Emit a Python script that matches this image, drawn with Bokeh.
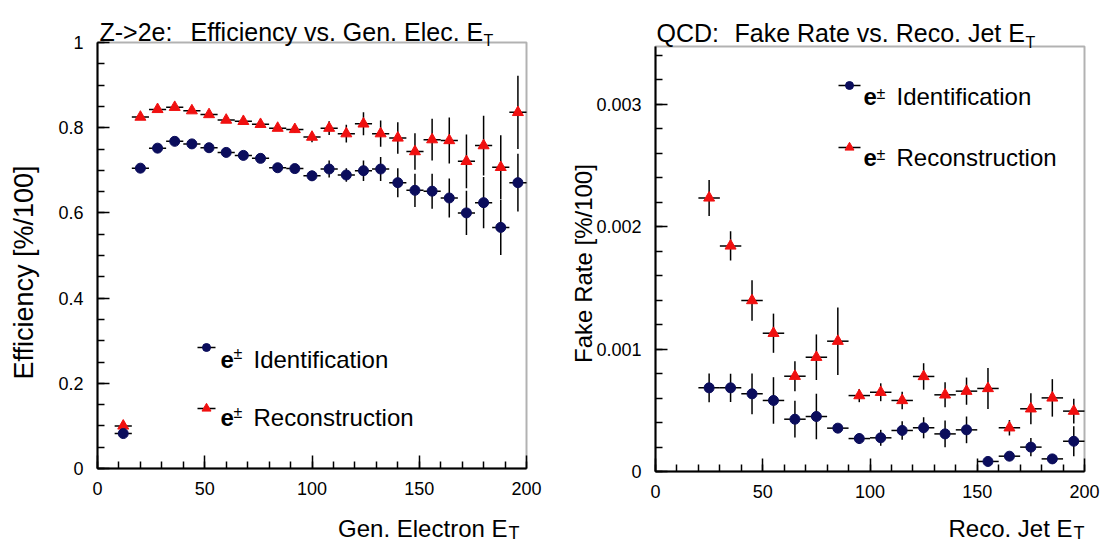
import numpy as np
from bokeh.plotting import figure
from bokeh.models import (Range1d, FixedTicker, CustomJSTickFormatter, Label,
                          LinearAxis, BoxAnnotation)
from bokeh.layouts import row
from bokeh.embed import file_html
from bokeh.resources import INLINE

# ---------------- data: left panel (Z->2e efficiency) ----------------
eff_bin_width = 8
eff_et = [12, 20, 28, 36, 44, 52, 60, 68, 76, 84, 92, 100, 108, 116, 124, 132,
          140, 148, 156, 164, 172, 180, 188, 196]
eff_id = [0.082, 0.705, 0.752, 0.768, 0.762, 0.753, 0.742, 0.735, 0.728, 0.706,
          0.704, 0.687, 0.703, 0.689, 0.699, 0.703, 0.671, 0.653, 0.651, 0.635,
          0.600, 0.624, 0.566, 0.671]
eff_id_err = [0.006, 0.005, 0.005, 0.005, 0.005, 0.006, 0.006, 0.007, 0.008, 0.009,
              0.010, 0.012, 0.020, 0.016, 0.024, 0.028, 0.034, 0.039, 0.041, 0.046,
              0.052, 0.060, 0.065, 0.068]
eff_reco = [0.100, 0.825, 0.843, 0.848, 0.840, 0.831, 0.818, 0.815, 0.808, 0.799,
            0.796, 0.778, 0.799, 0.786, 0.809, 0.786, 0.776, 0.744, 0.772, 0.770,
            0.721, 0.758, 0.707, 0.836]
eff_reco_err = [0.006, 0.004, 0.004, 0.004, 0.004, 0.005, 0.005, 0.005, 0.006, 0.007,
                0.008, 0.012, 0.016, 0.021, 0.027, 0.031, 0.037, 0.043, 0.049, 0.054,
                0.063, 0.070, 0.075, 0.086]

# ---------------- data: right panel (QCD fake rate) ----------------
fake_bin_width = 10
fake_et = [25, 35, 45, 55, 65, 75, 85, 95, 105, 115, 125, 135, 145, 155, 165, 175, 185, 195]
fake_id = [0.000683, 0.000683, 0.000634, 0.000580, 0.000427, 0.000449, 0.000354, 0.000269,
           0.000275, 0.000335, 0.000357, 0.000307, 0.000340, 0.000082, 0.000125, 0.000199,
           0.000103, 0.000247]
fake_id_err = [0.000118, 0.000115, 0.000166, 0.000190, 0.000150, 0.000186, 0.000030, 0.000044,
               0.000065, 0.000075, 0.000086, 0.000110, 0.000109, 0.000020, 0.000025, 0.000075,
               0.000040, 0.000122]
fake_reco = [0.002234, 0.001842, 0.001396, 0.001129, 0.000778, 0.000933, 0.001064, 0.000620,
             0.000647, 0.000580, 0.000776, 0.000626, 0.000656, 0.000678, 0.000357, 0.000512,
             0.000601, 0.000493]
fake_reco_err = [0.000147, 0.000120, 0.000166, 0.000160, 0.000122, 0.000186, 0.000276, 0.000054,
                 0.000073, 0.000071, 0.000108, 0.000102, 0.000111, 0.000167, 0.000063, 0.000127,
                 0.000153, 0.000101]

# ---------------- axes / ticks / labels ----------------
x_range_vals = (0, 200)
eff_y_range = (0, 1)
fake_y_range = (0, 0.00347)
x_ticks = [0, 50, 100, 150, 200]
x_minor_step = 10
eff_y_ticks = [0, 0.2, 0.4, 0.6, 0.8, 1]
eff_y_minor_step = 0.05
fake_y_ticks = [0, 0.001, 0.002, 0.003]
fake_y_minor_step = 0.0002

left_title = ("Z->2e:", "Efficiency vs. Gen. Elec. E", "T")
right_title = ("QCD:", "Fake Rate vs. Reco. Jet E", "T")
left_xlabel = ("Gen. Electron E", "T")
right_xlabel = ("Reco. Jet E", "T")
left_ylabel = "Efficiency [%/100]"
right_ylabel = "Fake Rate [%/100]"
leg_id = "Identification"
leg_reco = "Reconstruction"

BLUE = "#0b0d5c"
RED = "#f01010"
FONT = "Liberation Sans"
W, H = 552, 544


class Panel:
    """One figure whose frame fills the canvas; the plotting box is drawn inside it."""

    def __init__(self, offset_x, box, xr, yr, yticks, yminor_step):
        self.ox = offset_x
        l, r, t, b = box  # plotting box, in page pixels
        self.l, self.r, self.t, self.b = l - offset_x, r - offset_x, t, b
        sx = (xr[1] - xr[0]) / (self.r - self.l)
        sy = (yr[1] - yr[0]) / (self.b - self.t)
        xs = xr[0] - self.l * sx
        xe = xr[1] + (W - self.r) * sx
        ys = yr[0] - (H - self.b) * sy
        ye = yr[1] + self.t * sy
        p = figure(width=W, height=H, x_range=Range1d(xs, xe), y_range=Range1d(ys, ye),
                   output_backend="svg", toolbar_location=None, min_border=0,
                   x_axis_type=None, y_axis_type=None)
        p.title.visible = False
        p.grid.visible = False
        p.outline_line_color = None
        p.background_fill_color = "white"
        p.border_fill_color = "white"
        self.p, self.xr, self.yr = p, xr, yr

        fmt = CustomJSTickFormatter(code="return tick.toString();")
        xminor = list(np.round(np.arange(xr[0], xr[1] + 1e-9, x_minor_step), 6))
        yminor = list(np.round(np.arange(yr[0], yr[1] + 1e-12, yminor_step), 7))
        xa = LinearAxis(fixed_location=yr[0], bounds=xr,
                        ticker=FixedTicker(ticks=x_ticks, minor_ticks=xminor), formatter=fmt)
        ya = LinearAxis(fixed_location=xr[0], bounds=yr,
                        ticker=FixedTicker(ticks=yticks, minor_ticks=yminor), formatter=fmt)
        for ax in (xa, ya):
            ax.axis_line_color = "black"
            ax.axis_line_width = 2
            ax.major_tick_line_color = "black"
            ax.major_tick_line_width = 1.5
            ax.minor_tick_line_color = "black"
            ax.minor_tick_line_width = 1.5
            ax.major_tick_out = 0
            ax.minor_tick_out = 0
            ax.major_label_text_font = FONT
            ax.major_label_text_font_size = "18px"
            ax.major_label_text_color = "black"
        xa.major_tick_in = 13
        xa.minor_tick_in = 7
        ya.major_tick_in = 12
        ya.minor_tick_in = 7
        xa.major_label_standoff = 13
        ya.major_label_standoff = 14
        p.add_layout(xa, "below")
        p.add_layout(ya, "left")
        p.add_layout(BoxAnnotation(left=xr[0], right=xr[1], bottom=yr[0], top=yr[1],
                                   fill_alpha=0, line_color="black", line_width=2))

    def series(self, x, y, err, bw, color, marker, size):
        x = np.asarray(x, float)
        y = np.asarray(y, float)
        e = np.asarray(err, float)
        self.p.segment(x0=x, y0=y - e, x1=x, y1=y + e, line_color="black", line_width=1.5)
        self.p.segment(x0=x - bw / 2, y0=y, x1=x + bw / 2, y1=y, line_color="black", line_width=1.5)
        self.p.scatter(x=x, y=y, marker=marker, size=size, fill_color=color, line_color=color)

    def text(self, cx, cy, txt, size, align="left", bold=False, angle=0.0, baseline="alphabetic"):
        self.p.add_layout(Label(x=cx - self.ox, y=H - cy, x_units="screen", y_units="screen",
                                text=txt, text_font=FONT, text_font_size=f"{size}px",
                                text_align=align, text_baseline=baseline, angle=angle,
                                text_font_style="bold" if bold else "normal", text_color="black"))

    def data(self, cx, cy):
        px = cx - self.ox
        x = self.xr[0] + (px - self.l) / (self.r - self.l) * (self.xr[1] - self.xr[0])
        y = self.yr[0] + (self.b - cy) / (self.b - self.t) * (self.yr[1] - self.yr[0])
        return x, y

    def legend_entry(self, cx, cy, half_len, color, marker, size, label, tx, base, pm_base):
        x, y = self.data(cx, cy)
        x0, _ = self.data(cx - half_len, cy)
        x1, _ = self.data(cx + half_len, cy)
        self.p.segment(x0=[x0], y0=[y], x1=[x1], y1=[y], line_color="black", line_width=1.5)
        self.p.scatter(x=[x], y=[y], marker=marker, size=size, fill_color=color, line_color=color)
        self.text(tx, base, "e", 24, bold=True)
        self.text(tx + 13, pm_base, "\u00b1", 16)
        self.text(tx + 33, base, label, 24)


# ---------------- left panel ----------------
L = Panel(0, (97, 526, 42, 468), x_range_vals, eff_y_range, eff_y_ticks, eff_y_minor_step)
L.series(eff_et, eff_reco, eff_reco_err, eff_bin_width, RED, "triangle", 11)
L.series(eff_et, eff_id, eff_id_err, eff_bin_width, BLUE, "circle", 10)
L.text(99, 31, left_title[0], 25)
L.text(190, 31, left_title[1], 25)
L.text(483, 40, left_title[2], 16)
L.text(507, 528, left_xlabel[0], 24, align="right")
L.text(508, 532, left_xlabel[1], 18)
L.text(23, 272, left_ylabel, 27, align="center", angle=np.pi / 2, baseline="middle")
L.legend_entry(206, 347, 9, BLUE, "circle", 8, leg_id, 220, 359, 353)
L.legend_entry(206, 408, 9, RED, "triangle", 9, leg_reco, 220, 417, 412)

# ---------------- right panel ----------------
R = Panel(W, (655, 1084, 46, 471), x_range_vals, fake_y_range, fake_y_ticks, fake_y_minor_step)
R.series(fake_et, fake_reco, fake_reco_err, fake_bin_width, RED, "triangle", 11)
R.series(fake_et, fake_id, fake_id_err, fake_bin_width, BLUE, "circle", 10)
R.text(656, 32, right_title[0], 25)
R.text(734, 32, right_title[1], 25)
R.text(1025, 42, right_title[2], 16)
R.text(1072, 528, right_xlabel[0], 24, align="right")
R.text(1073, 532, right_xlabel[1], 18)
R.text(583, 263, right_ylabel, 24, align="center", angle=np.pi / 2, baseline="middle")
R.legend_entry(849, 85, 11, BLUE, "circle", 8, leg_id, 863, 96, 93)
R.legend_entry(849, 147, 11, RED, "triangle", 9, leg_reco, 863, 157, 154)

layout = row(L.p, R.p)
open("out.html", "w").write(file_html(layout, INLINE))
